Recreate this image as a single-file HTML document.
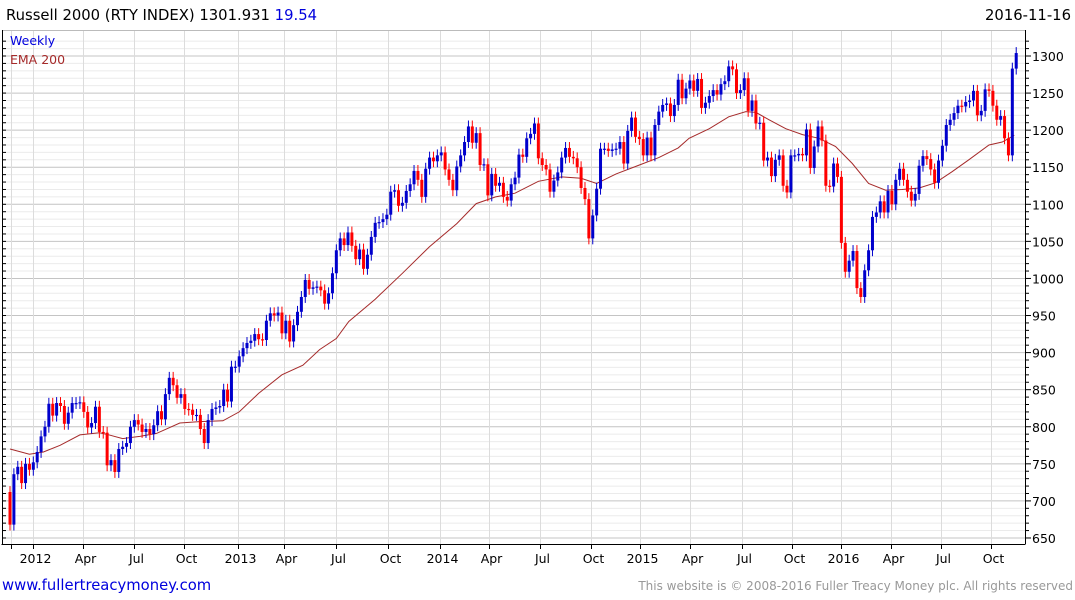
<!DOCTYPE html>
<html><head><meta charset="utf-8"><style>
body{margin:0;background:#fff;width:1075px;height:600px;overflow:hidden;font-family:"DejaVu Sans","Liberation Sans",sans-serif}
svg{position:absolute;left:0;top:0}
</style></head><body>
<svg id="chart" width="1075" height="600" font-family="DejaVu Sans, Liberation Sans, sans-serif"></svg>
<script>
const closes=[668,736,746,724,750,742,752,766,787,800,831,815,832,828,804,819,832,832,833,820,799,805,827,793,792,748,755,739,770,773,778,800,809,803,793,797,790,802,821,810,844,866,856,839,844,824,823,816,816,797,778,809,824,826,828,850,834,881,881,895,906,913,916,925,918,917,943,953,950,954,926,943,915,937,955,975,998,986,988,989,984,966,980,1007,1038,1054,1045,1062,1044,1026,1039,1013,1032,1056,1075,1076,1080,1086,1117,1119,1098,1102,1118,1127,1145,1133,1110,1148,1163,1158,1166,1170,1147,1133,1119,1151,1166,1184,1205,1183,1196,1153,1154,1112,1141,1125,1129,1110,1105,1127,1136,1167,1164,1189,1195,1209,1162,1153,1147,1117,1132,1143,1163,1176,1164,1162,1150,1122,1107,1054,1085,1121,1175,1175,1172,1174,1175,1184,1155,1199,1217,1191,1188,1166,1190,1166,1207,1225,1234,1236,1219,1234,1268,1243,1256,1267,1253,1269,1230,1237,1246,1254,1248,1262,1266,1286,1282,1250,1254,1270,1226,1240,1209,1210,1159,1163,1138,1160,1166,1125,1116,1166,1166,1168,1166,1201,1149,1178,1205,1186,1125,1124,1155,1137,1048,1009,1024,1037,987,975,1011,1038,1083,1089,1104,1089,1118,1100,1133,1148,1133,1117,1105,1114,1152,1165,1161,1147,1129,1159,1179,1207,1214,1223,1233,1232,1238,1240,1253,1220,1226,1255,1253,1233,1214,1219,1189,1166,1283,1304];
const firstOpen=712;
const emaWeek=[0,5,8.6,12.9,18,23,24.8,29,33.4,37.7,43.7,48.8,54.8,59,64,70,75.4,79.7,84,87.2,94,101,108,115,120,125,130,136,142,147,151,156,162,167,172,174.8,180,185,189.4,192,195.4,199.7,204,208.2,212.5,216.8,221,225.4,229.6,234,238.2,242.5,246.8,252,255.4,258.5];
const emaVal=[770,763,766,775,789,792,790,784,787,791,805,807,808,820,845,870,883,904,919,942,972,1007,1043,1074,1101,1110,1115,1131,1137,1135,1128,1141,1153,1163,1176,1189,1202,1218,1225,1224,1214,1202,1194,1189,1178,1155,1128,1119,1120,1122,1129,1144,1160,1180,1184,1193];
const yTicks=[650,700,750,800,850,900,950,1000,1050,1100,1150,1200,1250,1300];
const xTickWeek=[0.26,5.9,18.8,31.9,44.7,58.6,70.4,83.8,97.4,110.8,123.3,136.4,149.6,162.2,175.1,188.5,201.3,213.8,226.7,239.6,252.6];
const xTickLabel=["","2012","Apr","Jul","Oct","2013","Apr","Jul","Oct","2014","Apr","Jul","Oct","2015","Apr","Jul","Oct","2016","Apr","Jul","Oct"];

const NS="http://www.w3.org/2000/svg";
const svg=document.getElementById('chart');
const L=2,R=1025,T=30,B=544;
function X(i){return 10+i*3.885;}
function Y(v){return 56+(1300-v)*0.7415;}
function mk(tag,attrs,parent){const e=document.createElementNS(NS,tag);for(const k in attrs)e.setAttribute(k,attrs[k]);(parent||svg).appendChild(e);return e;}

for(let v=640;v<=1320;v+=10){const y=Y(v);if(y<T||y>B)continue;
 const g=mk('line',{x1:L,x2:R,y1:y,y2:y,stroke:(v%50===0)?'#c4c4c4':'#ebebeb','stroke-width':1});
 
 
 const tk=mk('line',{x1:R,x2:R+(v%50===0?6:4),y1:y,y2:y,stroke:'#000'});
 
 
 const lt=mk('line',{x1:L,x2:L+4,y1:y,y2:y,stroke:'#000'});
 
 
}
xTickWeek.forEach((w,k)=>{const x=Math.round(X(w))+0.5;
 const g=mk('line',{x1:x,x2:x,y1:T,y2:B,stroke:'#dcdcdc'});
 
 
 const t=mk('line',{x1:x,x2:x,y1:B,y2:B+5,stroke:'#000'});
 
 
 if(xTickLabel[k]){const tx=mk('text',{x:x+2,y:563,'font-size':12.5,'text-anchor':'middle',fill:'#000'});tx.textContent=xTickLabel[k];
  
  }
});
yTicks.forEach(v=>{const t=mk('text',{x:1032,y:Y(v)+5,'font-size':12.5,fill:'#000'});t.textContent=v;
 
 });
const f1=mk('line',{x1:L,x2:R,y1:T+0.5,y2:T+0.5,stroke:'#bbb'});


const f2=mk('line',{x1:L-0.5,x2:R+0.5,y1:B+0.5,y2:B+0.5,stroke:'#000'});


const f3=mk('line',{x1:R+0.5,x2:R+0.5,y1:T,y2:B,stroke:'#000'});


const f4=mk('line',{x1:L+0.5,x2:L+0.5,y1:T,y2:B,stroke:'#000'});



let pts=emaWeek.map((w,k)=>X(w).toFixed(1)+','+Y(emaVal[k]).toFixed(1)).join(' ');
const ema=mk('polyline',{points:pts,fill:'none',stroke:'#a52a2a','stroke-width':1});



closes.forEach((c,i)=>{const o=i===0?firstOpen:closes[i-1];const up=c>=o;const col=up?'#0000cc':'#ff0000';
 const x=X(i);const hi=Math.max(o,c)+8,lo=Math.min(o,c)-8;
 const g=mk('g',{});
 
 
 mk('line',{x1:x,x2:x,y1:Y(hi),y2:Y(lo),stroke:col,'stroke-width':1},g);
 const yt=Y(Math.max(o,c)),yb=Y(Math.min(o,c));
 mk('rect',{x:x-1.5,y:yt,width:3,height:Math.max(1.2,yb-yt),fill:col},g);
});

function txt(s,a,name){const t=mk('text',a);t.textContent=s;return t;}
const title=mk('text',{x:6,y:20,'font-size':14.8,fill:'#000'});


title.innerHTML='Russell 2000 (RTY INDEX) 1301.931 <tspan fill="#0000dd">19.54</tspan>';
txt('2016-11-16',{x:1071,y:20,'font-size':14.8,'text-anchor':'end',fill:'#000'},'chart-date');
txt('Weekly',{x:10,y:45,'font-size':12.5,fill:'#0000dd'},'legend-weekly');
txt('EMA 200',{x:10,y:64,'font-size':12.5,fill:'#a52a2a'},'legend-ema-200');
const link=txt('www.fullertreacymoney.com',{x:2,y:590,'font-size':14.8,fill:'#0000dd'},'website-link');

txt('This website is © 2008-2016 Fuller Treacy Money plc. All rights reserved',{x:1073,y:590,'font-size':12,'text-anchor':'end',fill:'#999'},'copyright-notice');
</script>
</body></html>
